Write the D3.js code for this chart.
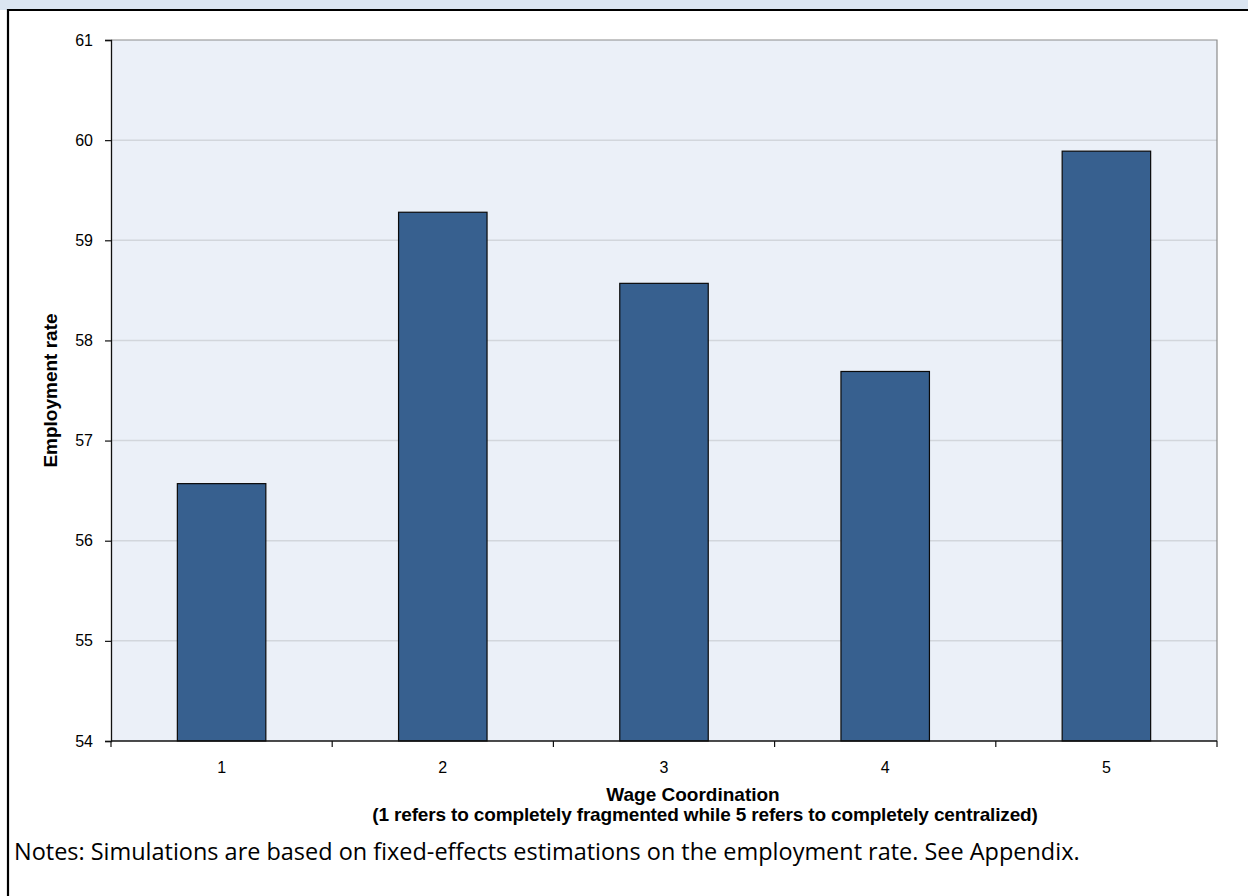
<!DOCTYPE html>
<html>
<head>
<meta charset="utf-8">
<script src="https://cdn.jsdelivr.net/npm/d3@7"></script>
<style>
  html, body { margin: 0; padding: 0; background: #fff; }
  svg { display: block; }
</style>
</head>
<body>
<svg id="chart" width="1248" height="896"></svg>
<script>
// Wage coordination level vs. simulated employment rate
const categories = ["1", "2", "3", "4", "5"];
const employment = [56.57, 59.28, 58.57, 57.69, 59.89];
const yTicks = [54, 55, 56, 57, 58, 59, 60, 61];
const yTitle = "Employment rate";
const xTitle = ["Wage Coordination", "(1 refers to completely fragmented while 5 refers to completely centralized)"];
const note = "Notes: Simulations are based on fixed-effects estimations on the employment rate. See Appendix.";

const svg = d3.select("#chart");
const W = 1248, H = 896;
const plot = { left: 111, right: 1217, top: 40, bottom: 741 };
const sans = "Liberation Sans, Arial, sans-serif";

// framing box: light header band, heavy rules on top and left
svg.append("rect").attr("x", 0).attr("y", 0).attr("width", W).attr("height", 10).attr("fill", "#dbe5f1");
svg.append("line").attr("x1", 7).attr("x2", W).attr("y1", 10).attr("y2", 10)
  .attr("stroke", "#000").attr("stroke-width", 2.2);
svg.append("line").attr("x1", 8).attr("x2", 8).attr("y1", 9).attr("y2", H)
  .attr("stroke", "#000").attr("stroke-width", 2.2);

const x = d3.scaleBand().domain(categories).range([plot.left, plot.right])
  .paddingInner(0.6).paddingOuter(0.3);
const y = d3.scaleLinear().domain([54, 61]).range([plot.bottom, plot.top]);
const step = x.step();

// plot area background
svg.append("rect")
  .attr("x", plot.left).attr("y", plot.top)
  .attr("width", plot.right - plot.left).attr("height", plot.bottom - plot.top)
  .attr("fill", "#ebf0f8");

// horizontal gridlines
svg.append("g").selectAll("line")
  .data(yTicks.filter(v => v > 54 && v < 61))
  .join("line")
  .attr("x1", plot.left).attr("x2", plot.right)
  .attr("y1", d => y(d)).attr("y2", d => y(d))
  .attr("stroke", "#d2d6dc").attr("stroke-width", 1.5);

// top and right borders of the plot area
svg.append("path")
  .attr("d", `M${plot.left},${y(61)}H${plot.right}V${plot.bottom}`)
  .attr("fill", "none").attr("stroke", "#8c8c8c").attr("stroke-width", 1.2);

// bars
svg.append("g").selectAll("rect")
  .data(categories.map((c, i) => ({ c, v: employment[i] })))
  .join("rect")
  .attr("x", d => x(d.c))
  .attr("y", d => y(d.v))
  .attr("width", x.bandwidth())
  .attr("height", d => y(54) - y(d.v))
  .attr("fill", "#37608f")
  .attr("stroke", "#0a0a0a").attr("stroke-width", 1.2);

// y axis
const yAxis = d3.axisLeft(y).tickValues(yTicks).tickSize(6).tickPadding(12).tickFormat(d3.format("d"));
const gy = svg.append("g").attr("transform", `translate(${plot.left},0)`).call(yAxis)
  .attr("font-size", 16).attr("font-family", sans);
gy.select(".domain").attr("stroke", "#111").attr("stroke-width", 1.3);
gy.selectAll(".tick line").attr("stroke", "#111").attr("stroke-width", 1.2);
gy.selectAll(".tick text").attr("fill", "#000");

// x axis: ticks at category boundaries, labels at centres
const gx = svg.append("g");
gx.append("line").attr("x1", plot.left).attr("x2", plot.right)
  .attr("y1", plot.bottom).attr("y2", plot.bottom)
  .attr("stroke", "#111").attr("stroke-width", 1.3);
const bounds = categories.map(c => x(c) + x.bandwidth() / 2 - step / 2)
  .concat([x(categories[categories.length - 1]) + x.bandwidth() / 2 + step / 2]);
gx.selectAll("line.tk").data(bounds).join("line").attr("class", "tk")
  .attr("x1", d => d).attr("x2", d => d)
  .attr("y1", plot.bottom).attr("y2", plot.bottom + 6)
  .attr("stroke", "#111").attr("stroke-width", 1.2);
gx.selectAll("text").data(categories).join("text")
  .attr("x", d => x(d) + x.bandwidth() / 2)
  .attr("y", 773)
  .attr("text-anchor", "middle")
  .attr("font-family", sans)
  .attr("font-size", 16).attr("fill", "#000")
  .text(d => d);

// axis titles
svg.append("text")
  .attr("transform", `translate(57,${(plot.top + plot.bottom) / 2}) rotate(-90)`)
  .attr("text-anchor", "middle")
  .attr("font-family", sans)
  .attr("font-weight", "bold").attr("font-size", 19).attr("fill", "#000")
  .text(yTitle);

svg.append("text").attr("x", 693).attr("y", 801)
  .attr("text-anchor", "middle")
  .attr("font-family", sans)
  .attr("font-weight", "bold").attr("font-size", 19).attr("fill", "#000")
  .text(xTitle[0]);
svg.append("text").attr("x", 705).attr("y", 821)
  .attr("text-anchor", "middle")
  .attr("font-family", sans)
  .attr("font-weight", "bold").attr("font-size", 19).attr("letter-spacing", -0.15).attr("fill", "#000")
  .text(xTitle[1]);

// footnote, sized to run from the left margin to x ≈ 1080
const noteText = svg.append("text").attr("x", 14).attr("y", 860)
  .attr("font-family", "Open Sans, Noto Sans, sans-serif")
  .attr("font-size", 20).attr("fill", "#000")
  .text(note);
const natural = noteText.node().getComputedTextLength();
noteText.attr("font-size", 20 * (1080 - 14) / natural);
</script>
</body>
</html>
